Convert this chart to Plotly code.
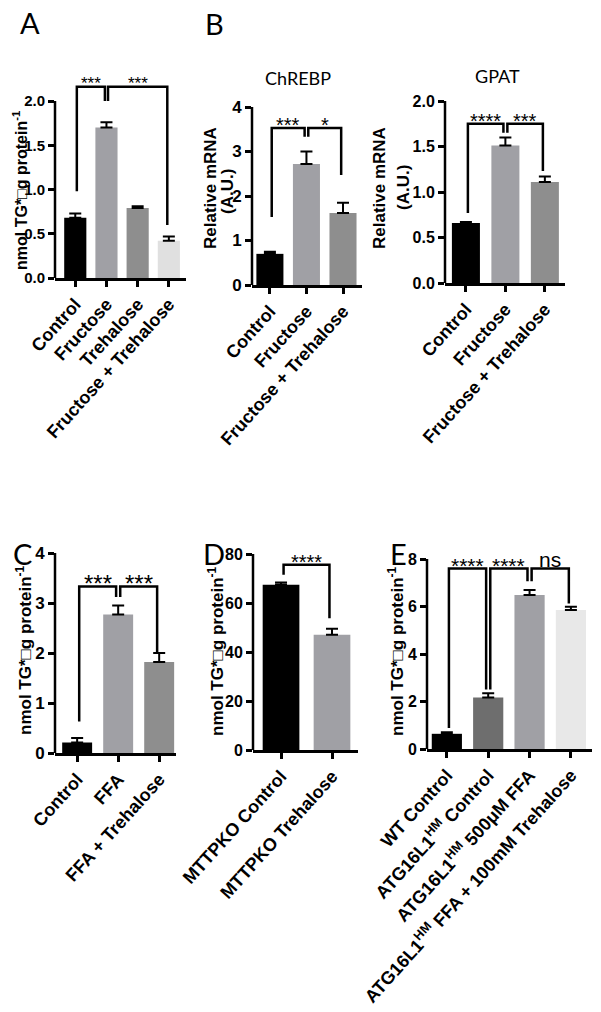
import plotly.graph_objects as go

W, H = 601, 1012

# ---------------- data ----------------
a_cats = ["Control", "Fructose", "Trehalose", "Fructose + Trehalose"]
a_vals = [0.68, 1.70, 0.79, 0.42]
a_err = [0.05, 0.06, 0.02, 0.05]
a_ticks = [0.0, 0.5, 1.0, 1.5, 2.0]
a_sig = [(0, 1, "***", 2.16, 0.98, 2.0), (1, 3, "***", 2.16, 2.0, 0.6)]

b1_cats = ["Control", "Fructose", "Fructose + Trehalose"]
b1_vals = [0.70, 2.72, 1.62]
b1_err = [0.05, 0.28, 0.23]
b1_ticks = [0, 1, 2, 3, 4]
b1_sig = [(0, 1, "***", 3.53, 1.53, 3.33), (1, 2, "*", 3.53, 3.33, 2.47)]

b2_cats = ["Control", "Fructose", "Fructose + Trehalose"]
b2_vals = [0.66, 1.51, 1.11]
b2_err = [0.01, 0.09, 0.06]
b2_ticks = [0.0, 0.5, 1.0, 1.5, 2.0]
b2_sig = [(0, 1, "****", 1.75, 0.77, 1.65), (1, 2, "***", 1.75, 1.65, 1.23)]

c_cats = ["Control", "FFA", "FFA + Trehalose"]
c_vals = [0.21, 2.77, 1.82]
c_err = [0.09, 0.18, 0.18]
c_ticks = [0, 1, 2, 3, 4]
c_sig = [(0, 1, "***", 3.33, 0.63, 3.12), (1, 2, "***", 3.33, 3.12, 2.0)]

d_cats = ["MTTPKO Control", "MTTPKO Trehalose"]
d_vals = [67.4, 47.0]
d_err = [1.0, 2.5]
d_ticks = [0, 20, 40, 60, 80]
d_sig = [(0, 1, "****", 75.6, 71.5, 53.8)]

e_cats = ["WT Control", "ATG16L1<sup>HM</sup> Control", "ATG16L1<sup>HM</sup> 500μM FFA",
          "ATG16L1<sup>HM</sup> FFA + 100mM Trehalose"]
e_vals = [0.64, 2.17, 6.48, 5.85]
e_err = [0.07, 0.18, 0.21, 0.14]
e_ticks = [0, 2, 4, 6, 8]
e_sig = [(0, 1, "****", 7.6, 0.88, 2.5), (1, 2, "****", 7.6, 2.5, 7.06), (2, 3, "ns", 7.6, 7.06, 6.13)]

TG_TITLE = "nmol TG*\u25a1g protein<sup>-1</sup>"

BLK = "#000000"
G1 = "#a0a0a5"
G2 = "#8e8e8e"
G3 = "#e0e0e0"
G4 = "#6e6e6e"
G5 = "#e8e8e8"

panels = [
    dict(cats=a_cats, vals=a_vals, err=a_err, ticks=a_ticks, sig=a_sig, fmt="{:.1f}",
         colors=[BLK, G1, G2, G3], xpx=(55, 186), ypx=(278, 101), rmax=2.3,
         xr=(-0.65, 3.55), bw=0.71, star=17, tfs=15),
    dict(cats=b1_cats, vals=b1_vals, err=b1_err, ticks=b1_ticks, sig=b1_sig, fmt="{:d}",
         colors=[BLK, G1, G2], xpx=(252, 362), ypx=(285, 107), rmax=4,
         xr=(-0.49, 2.52), bw=0.74, star=20, tfs=17),
    dict(cats=b2_cats, vals=b2_vals, err=b2_err, ticks=b2_ticks, sig=b2_sig, fmt="{:.1f}",
         colors=[BLK, G1, G2], xpx=(445, 565), ypx=(283, 101), rmax=2.0,
         xr=(-0.53, 2.51), bw=0.71, star=20, tfs=16),
    dict(cats=c_cats, vals=c_vals, err=c_err, ticks=c_ticks, sig=c_sig, fmt="{:d}",
         colors=[BLK, G1, G2], xpx=(55, 176), ypx=(753, 553), rmax=4,
         xr=(-0.54, 2.41), bw=0.73, star=24, tfs=17),
    dict(cats=d_cats, vals=d_vals, err=d_err, ticks=d_ticks, sig=d_sig, fmt="{:d}",
         colors=[BLK, G1], xpx=(253, 358), ypx=(750, 554), rmax=80,
         xr=(-0.55, 1.51), bw=0.72, star=20, tfs=16),
    dict(cats=e_cats, vals=e_vals, err=e_err, ticks=e_ticks, sig=e_sig, fmt="{:d}",
         colors=[BLK, G4, G1, G5], xpx=(427, 592), ypx=(749, 559), rmax=8,
         xr=(-0.48, 3.51), bw=0.73, star=21, tfs=16),
]

FONT = "Arial, Liberation Sans, sans-serif"
LW = 2.5

fig = go.Figure()
shapes = []
annotations = []
layout = {}

for k, p in enumerate(panels, start=1):
    sfx = "" if k == 1 else str(k)
    xa, ya = "x" + sfx, "y" + sfx
    n = len(p["vals"])
    fig.add_trace(go.Bar(
        x=list(range(n)), y=p["vals"], width=p["bw"],
        marker=dict(color=p["colors"], line=dict(width=0)),
        error_y=dict(type="data", array=p["err"], arrayminus=[0] * n, symmetric=False,
                     color="black", thickness=2, width=6),
        xaxis=xa, yaxis=ya, showlegend=False, hoverinfo="skip"))

    zero_px, top_px = p["ypx"]
    top_tick = p["ticks"][-1]
    ppu = (zero_px - top_px) / top_tick
    dom_top_px = zero_px - p["rmax"] * ppu
    ydom = [1 - zero_px / H, 1 - dom_top_px / H]
    xdom = [p["xpx"][0] / W, p["xpx"][1] / W]

    layout["xaxis" + sfx] = dict(
        domain=xdom, anchor=ya, range=list(p["xr"]), showline=True, linewidth=LW, linecolor="black",
        ticks="outside", ticklen=6, tickwidth=LW, tickcolor="black",
        tickvals=list(range(n)), ticktext=p["cats"], tickangle=-48, automargin=False,
        tickfont=dict(family=FONT, size=18, color="black", weight="bold"),
        showgrid=False, zeroline=False, fixedrange=True)
    layout["yaxis" + sfx] = dict(
        domain=ydom, anchor=xa, range=[0, p["rmax"]], showline=False, automargin=False,
        ticks="outside", ticklen=6, tickwidth=LW, tickcolor="black",
        tickvals=p["ticks"], ticktext=[p["fmt"].format(t) for t in p["ticks"]],
        tickfont=dict(family=FONT, size=p["tfs"], color="black", weight="bold"),
        showgrid=False, zeroline=False, fixedrange=True)

    # y axis line stopping at the top tick
    shapes.append(dict(type="line", xref=xa + " domain", yref=ya + " domain",
                       x0=0, x1=0, y0=0, y1=top_tick / p["rmax"],
                       line=dict(color="black", width=LW)))

    d = 0.05
    for (i, j, lab, top, li, lj) in p["sig"]:
        xi, xj = i + d, j - d
        shapes.append(dict(type="path", xref=xa, yref=ya,
                           path=f"M {xi},{li} L {xi},{top} L {xj},{top} L {xj},{lj}",
                           line=dict(color="black", width=LW)))
        annotations.append(dict(x=(i + j) / 2, y=top, xref=xa, yref=ya, text=lab,
                                showarrow=False, yanchor="middle",
                                yshift=(9 if lab == "ns" else 3),
                                font=dict(family=FONT, size=p["star"], color="black")))

# y-axis titles
def ytitle(text, xpx, ypx, size=17):
    annotations.append(dict(x=xpx / W, y=1 - ypx / H, xref="paper", yref="paper", text=text,
                            textangle=-90, showarrow=False, xanchor="center", yanchor="middle",
                            font=dict(family=FONT, size=size, color="black", weight="bold")))

ytitle(TG_TITLE, 20, 191, 16)
ytitle("Relative mRNA", 210, 188)
ytitle("(A.U.)", 227, 192)
ytitle("Relative mRNA", 379, 188)
ytitle("(A.U.)", 403, 188)
ytitle(TG_TITLE, 24, 650)
ytitle(TG_TITLE, 216, 651)
ytitle(TG_TITLE, 396, 651)

# panel titles
for txt, xpx, ypx in [("ChREBP", 298, 78), ("GPAT", 497, 76)]:
    annotations.append(dict(x=xpx / W, y=1 - ypx / H, xref="paper", yref="paper", text=txt,
                            showarrow=False, xanchor="center", yanchor="middle",
                            font=dict(family="Lato, Open Sans, sans-serif", size=18, color="black")))

# panel letters
for txt, xpx, ypx in [("A", 30, 23), ("B", 214, 24), ("C", 22, 553), ("D", 214, 553), ("E", 398, 553)]:
    annotations.append(dict(x=xpx / W, y=1 - ypx / H, xref="paper", yref="paper", text=txt,
                            showarrow=False, xanchor="center", yanchor="middle",
                            font=dict(family="Lato, Open Sans, sans-serif", size=29, color="black")))

fig.update_layout(width=W, height=H, margin=dict(l=0, r=0, t=0, b=0, autoexpand=False),
                  paper_bgcolor="white", plot_bgcolor="white",
                  font=dict(family=FONT, color="black"),
                  shapes=shapes, annotations=annotations, **layout)

fig.write_html("out.html", config={"displayModeBar": False},
               post_script="document.body.style.margin='0';")
